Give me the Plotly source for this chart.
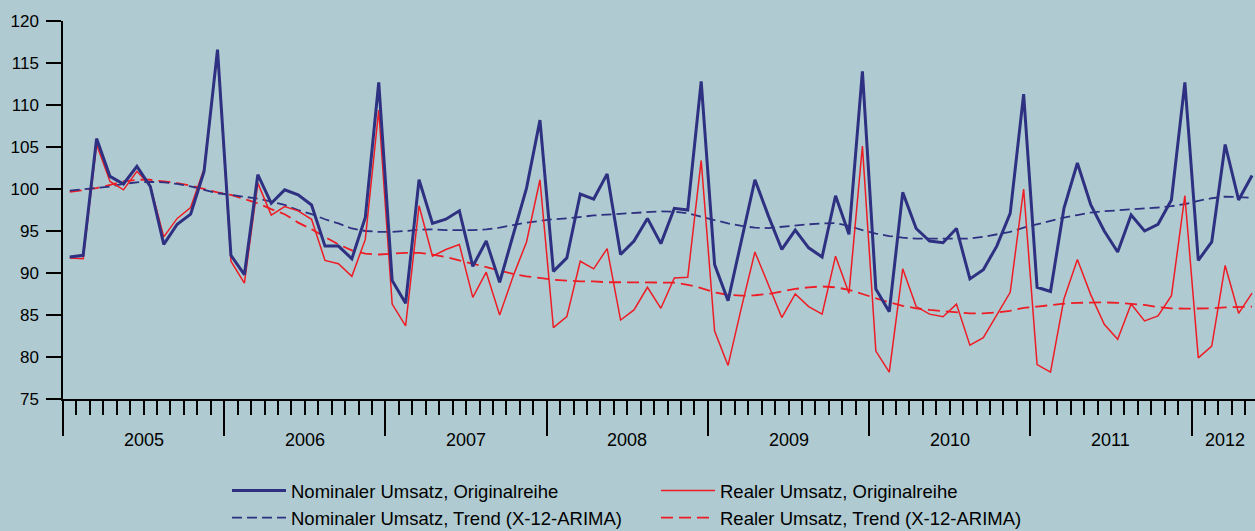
import plotly.graph_objects as go

# Months: Jan 2005 .. May 2012 (89 monthly observations)
years = ["2005", "2006", "2007", "2008", "2009", "2010", "2011", "2012"]
n_months = 89

nominal_orig = [
    91.9, 92.1, 106.0, 101.5, 100.6, 102.7, 100.3, 93.4, 95.8, 97.0, 102.1, 116.6,
    92.1, 89.8, 101.7, 98.3, 99.9, 99.3, 98.1, 93.2, 93.2, 91.7, 96.6, 112.7,
    89.1, 86.4, 101.1, 95.9, 96.4, 97.4, 90.8, 93.8, 88.9, 94.6, 100.1, 108.2,
    90.2, 91.8, 99.4, 98.8, 101.8, 92.2, 93.8, 96.5, 93.5, 97.7, 97.5, 112.8,
    91.0, 86.7, 94.0, 101.1, 96.8, 92.8, 95.1, 93.0, 91.9, 99.2, 94.6, 114.0,
    88.1, 85.4, 99.6, 95.3, 93.8, 93.6, 95.3, 89.3, 90.4, 93.2, 97.1, 111.3,
    88.3, 87.8, 97.7, 103.1, 98.1, 95.0, 92.5, 96.9, 95.0, 95.8, 98.7, 112.7,
    91.5, 93.7, 105.3, 98.7, 101.6,
]

real_orig = [
    91.8, 91.7, 105.3, 100.9, 99.9, 102.1, 100.4, 94.3, 96.5, 97.8, 102.4, 116.4,
    91.4, 88.8, 100.7, 96.9, 97.9, 97.4, 96.4, 91.5, 91.1, 89.6, 94.0, 109.4,
    86.3, 83.7, 98.0, 92.0, 92.8, 93.4, 87.1, 90.1, 85.0, 89.6, 93.7, 101.1,
    83.5, 84.8, 91.4, 90.5, 92.9, 84.4, 85.6, 88.3, 85.8, 89.4, 89.5, 103.4,
    83.1, 79.0, 85.9, 92.5, 88.6, 84.7, 87.5, 86.0, 85.1, 92.0, 87.6, 105.1,
    80.7, 78.2, 90.5, 86.0, 85.1, 84.8, 86.3, 81.4, 82.3, 85.0, 87.7, 100.0,
    79.1, 78.2, 86.9, 91.6, 87.4, 83.9, 82.1, 86.3, 84.3, 84.9, 87.3, 99.2,
    79.9, 81.3, 90.9, 85.2, 87.6,
]

nominal_trend = [
    99.8, 99.95, 100.1, 100.3, 100.6, 100.8, 100.85, 100.8, 100.6, 100.3, 99.9, 99.5,
    99.3, 99.1, 98.85, 98.5, 98.1, 97.5, 97.0, 96.4, 95.9, 95.3, 95.0, 94.9,
    94.9, 95.0, 95.15, 95.2, 95.1, 95.1, 95.1, 95.2, 95.4, 95.7, 96.0, 96.2,
    96.4, 96.5, 96.7, 96.85, 96.95, 97.05, 97.15, 97.3, 97.35, 97.3, 97.1, 96.7,
    96.3, 95.9, 95.6, 95.4, 95.35, 95.5, 95.7, 95.8, 95.9, 95.95, 95.6, 95.1,
    94.7, 94.4, 94.2, 94.1, 94.1, 94.1, 94.1, 94.1, 94.3, 94.6, 94.9, 95.4,
    95.8, 96.2, 96.6, 96.9, 97.2, 97.35, 97.45, 97.55, 97.65, 97.8, 97.95, 98.2,
    98.6, 98.9, 99.1, 99.05, 98.95,
]

real_trend = [
    99.65, 99.85, 100.1, 100.5, 100.9, 101.1, 101.1, 100.9, 100.7, 100.4, 100.0, 99.6,
    99.3, 98.8, 98.3, 97.6, 97.0, 96.0, 95.2, 94.3, 93.4, 92.7, 92.3, 92.2,
    92.3, 92.4, 92.4, 92.2, 91.9, 91.5, 91.1, 90.7, 90.3, 89.9, 89.6, 89.4,
    89.2, 89.1, 89.0, 89.0, 88.9, 88.9, 88.9, 88.9, 88.9, 88.85, 88.6, 88.2,
    87.7, 87.4, 87.3, 87.35, 87.5, 87.8, 88.1, 88.3, 88.4, 88.3, 88.0, 87.5,
    87.0, 86.5, 86.1, 85.8, 85.6, 85.45, 85.3, 85.2, 85.2, 85.3, 85.5, 85.85,
    86.0, 86.2, 86.35, 86.45, 86.5, 86.5, 86.45, 86.35, 86.2, 85.95, 85.8, 85.75,
    85.75, 85.8, 85.9, 85.95, 86.0,
]

names = [
    "Nominaler Umsatz, Originalreihe",
    "Realer Umsatz, Originalreihe",
    "Nominaler Umsatz, Trend (X-12-ARIMA)",
    "Realer Umsatz, Trend (X-12-ARIMA)",
]

BLUE = "#2E3182"
RED = "#EE1C25"
BG = "#AFCBD1"
FONT = "Liberation Sans, Arial, sans-serif"

x = [i + 0.5 for i in range(n_months)]  # mid-month positions

fig = go.Figure()
fig.add_trace(go.Scatter(x=x, y=real_trend, mode="lines", name=names[3],
                         line=dict(color=RED, width=1.8, dash="12px,6px"),
                         legend="legend2", legendrank=2, legendgroup="rt"))
fig.add_trace(go.Scatter(x=x, y=nominal_trend, mode="lines", name=names[2],
                         line=dict(color=BLUE, width=1.8, dash="10px,5px"),
                         legend="legend", legendrank=2, legendgroup="nt"))
fig.add_trace(go.Scatter(x=x, y=real_orig, mode="lines", name=names[1],
                         line=dict(color=RED, width=1.5),
                         legend="legend2", legendrank=1, legendgroup="ro"))
fig.add_trace(go.Scatter(x=x, y=nominal_orig, mode="lines", name=names[0],
                         line=dict(color=BLUE, width=3),
                         legend="legend", legendrank=1, legendgroup="no"))

# Year labels centred under each year's span
year_starts = [12 * k for k in range(len(years))]
for k, yr in enumerate(years):
    start = year_starts[k]
    end = min(start + 12, n_months)
    fig.add_annotation(x=(start + end) / 2, y=0, xref="x", yref="paper",
                       text=yr, showarrow=False, yanchor="middle", yshift=-41,
                       font=dict(family=FONT, size=18, color="black"))

legend_common = dict(orientation="v", xref="container", yref="container",
                     yanchor="top", xanchor="left", bgcolor="rgba(0,0,0,0)",
                     font=dict(family=FONT, size=18.5, color="black"),
                     itemwidth=54, tracegroupgap=0, traceorder="grouped")

fig.update_layout(
    width=1255, height=531,
    margin=dict(l=62.7, r=0, t=20.7, b=132.3, autoexpand=False),
    paper_bgcolor=BG, plot_bgcolor=BG,
    font=dict(family=FONT, size=17, color="black"),
    showlegend=True,
    legend=dict(x=227 / 1255, y=1 - 472 / 531, **legend_common),
    legend2=dict(x=656 / 1255, y=1 - 472 / 531, **legend_common),
    xaxis=dict(range=[0, 88.72], showgrid=False, zeroline=False,
               showline=True, linecolor="black", linewidth=1.5,
               tickmode="array", tickvals=year_starts, ticktext=["" for _ in years],
               ticks="outside", ticklen=35, tickwidth=1.5, tickcolor="black",
               minor=dict(ticks="outside", ticklen=14, tickwidth=1.5,
                          tickcolor="black", dtick=1, tick0=0, showgrid=False)),
    yaxis=dict(range=[75, 120], showgrid=False, zeroline=False,
               showline=True, linecolor="black", linewidth=1.5,
               tickmode="array", tickvals=list(range(75, 121, 5)),
               ticks="outside", ticklen=15, tickwidth=1.5, tickcolor="black",
               ticklabelstandoff=4,
               tickfont=dict(family=FONT, size=17, color="black")),
)

fig.write_html("out.html", config={"displayModeBar": False},
               post_script="document.body.style.margin='0';")
